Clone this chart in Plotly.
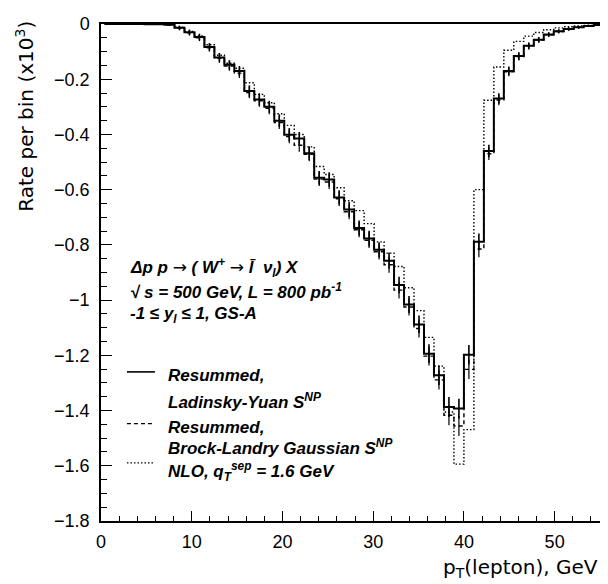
import plotly.graph_objects as go

# ---- data (values in units of 10^3) ----
BIN_LO = [0.4, 1.5, 2.6, 3.7, 4.8, 5.9, 7.0, 8.1, 9.2, 10.3, 11.4, 12.5, 13.6,
          14.7, 15.8, 16.9, 18.0, 19.1, 20.2, 21.3, 22.4, 23.5, 24.6, 25.7,
          26.8, 27.9, 29.0, 30.1, 31.2, 32.3, 33.4, 34.5, 35.6, 36.7, 37.8,
          38.9, 40.0, 41.1, 42.2, 43.3, 44.4, 45.5, 46.6, 47.7, 48.8, 49.9,
          51.0, 52.1, 53.2, 54.3]
BIN_WIDTH = 1.1

RESUM_LY = [0.0, 0.0, 0.0, 0.0, -0.0005, -0.001, -0.003, -0.014, -0.030, -0.047,
            -0.083, -0.121, -0.148, -0.170, -0.243, -0.273, -0.300, -0.350,
            -0.401, -0.415, -0.468, -0.557, -0.563, -0.628, -0.672, -0.739,
            -0.777, -0.818, -0.857, -0.945, -1.016, -1.088, -1.194, -1.272,
            -1.387, -1.393, -1.198, -0.789, -0.460, -0.270, -0.170, -0.116,
            -0.079, -0.057, -0.038, -0.026, -0.018, -0.012, -0.007, -0.004]

RESUM_BL = [0.0, 0.0, 0.0, 0.0, -0.0005, -0.001, -0.003, -0.015, -0.032, -0.050,
            -0.086, -0.124, -0.152, -0.178, -0.248, -0.278, -0.305, -0.357,
            -0.408, -0.439, -0.472, -0.562, -0.572, -0.633, -0.680, -0.745,
            -0.783, -0.825, -0.872, -0.964, -1.025, -1.103, -1.203, -1.289,
            -1.417, -1.456, -1.251, -0.815, -0.470, -0.275, -0.173, -0.118,
            -0.080, -0.058, -0.039, -0.027, -0.018, -0.012, -0.007, -0.004]

NLO = [0.0, 0.0, 0.0, 0.0, 0.0, -0.001, -0.002, -0.012, -0.027, -0.043,
       -0.075, -0.113, -0.142, -0.160, -0.213, -0.255, -0.285, -0.325,
       -0.367, -0.400, -0.445, -0.516, -0.545, -0.593, -0.640, -0.676,
       -0.723, -0.789, -0.830, -0.878, -0.955, -1.038, -1.135, -1.239,
       -1.405, -1.594, -1.469, -0.600, -0.276, -0.156, -0.095, -0.063,
       -0.044, -0.031, -0.021, -0.014, -0.010, -0.007, -0.005, -0.003]

ERR_LY = [0.0, 0.0, 0.0, 0.0, 0.0, 0.0, 0.003, 0.008, 0.010, 0.012,
          0.014, 0.016, 0.017, 0.018, 0.021, 0.022, 0.022, 0.023, 0.024,
          0.024, 0.025, 0.025, 0.026, 0.026, 0.027, 0.027, 0.028, 0.028,
          0.029, 0.030, 0.031, 0.032, 0.034, 0.035, 0.036, 0.036, 0.035,
          0.030, 0.023, 0.019, 0.016, 0.014, 0.012, 0.010, 0.008, 0.007,
          0.006, 0.005, 0.004, 0.003]

ERR_BL = [0.0, 0.0, 0.0, 0.0, 0.0, 0.0, 0.003, 0.008, 0.010, 0.012,
          0.014, 0.016, 0.017, 0.018, 0.021, 0.022, 0.022, 0.023, 0.024,
          0.024, 0.025, 0.025, 0.026, 0.026, 0.027, 0.027, 0.028, 0.028,
          0.029, 0.030, 0.031, 0.032, 0.034, 0.035, 0.036, 0.036, 0.035,
          0.030, 0.023, 0.019, 0.016, 0.014, 0.012, 0.010, 0.008, 0.007,
          0.006, 0.005, 0.004, 0.003]

X_TICKS = [0, 10, 20, 30, 40, 50]

# ---- helpers ----
edges = BIN_LO + [BIN_LO[-1] + BIN_WIDTH]
centers = [b + BIN_WIDTH / 2 for b in BIN_LO]


def step(vals):
    return vals + [vals[-1]]


fig = go.Figure()

fig.add_trace(go.Scatter(x=edges, y=step(NLO), mode="lines", line_shape="hv",
                         line=dict(color="black", width=1.4, dash="1.5px,2px"),
                         showlegend=False))
fig.add_trace(go.Scatter(x=edges, y=step(RESUM_BL), mode="lines", line_shape="hv",
                         line=dict(color="black", width=1.4, dash="4px,3px"),
                         showlegend=False))
fig.add_trace(go.Scatter(x=centers, y=RESUM_BL, mode="markers",
                         marker=dict(size=1, color="rgba(0,0,0,0)"),
                         error_y=dict(type="data", array=ERR_BL, width=0,
                                      thickness=1.2, color="black"),
                         showlegend=False))
fig.add_trace(go.Scatter(x=edges, y=step(RESUM_LY), mode="lines", line_shape="hv",
                         line=dict(color="black", width=2),
                         showlegend=False))
fig.add_trace(go.Scatter(x=centers, y=RESUM_LY, mode="markers",
                         marker=dict(size=1, color="rgba(0,0,0,0)"),
                         error_y=dict(type="data", array=ERR_LY, width=0,
                                      thickness=1.6, color="black"),
                         showlegend=False))

BI = dict(family="Liberation Sans, Arial, sans-serif", size=17, color="black")
TITLE_FONT = dict(family="DejaVu Sans, sans-serif", size=20, color="black")

annotations = []


def txt(x, y, s, font=BI, **kw):
    d = dict(x=x, y=y, xref="paper", yref="paper", text=s, showarrow=False,
             xanchor="left", yanchor="middle", font=font)
    d.update(kw)
    annotations.append(d)


ARROW = '<span style="font-family:DejaVu Sans;font-weight:normal;font-style:normal">→</span>'

# process description
txt(0.054, 0.510, "<b><i>Δp p " + ARROW + " ( W<sup>+</sup> " + ARROW
    + " l\u0304  ν<sub>l</sub>) X</i></b>")
txt(0.054, 0.462, "<b><i>√ s = 500 GeV, L = 800 pb<sup>-1</sup></i></b>")
txt(0.054, 0.415, "<b><i>-1 ≤ y<sub>l</sub> ≤ 1, GS-A</i></b>")

# legend texts
txt(0.131, 0.292, "<b><i>Resummed,</i></b>")
txt(0.131, 0.241, "<b><i>Ladinsky-Yuan S<sup>NP</sup></i></b>")
txt(0.131, 0.188, "<b><i>Resummed,</i></b>")
txt(0.131, 0.148, "<b><i>Brock-Landry Gaussian S<sup>NP</sup></i></b>")
txt(0.131, 0.100, "<b><i>NLO, q<sub>T</sub><sup>sep</sup> = 1.6 GeV</i></b>")

# axis titles
txt(1.0, -0.095, "p<sub>T</sub>(lepton), GeV", font=TITLE_FONT, xanchor="right")
txt(-0.154, 1.01, "Rate per bin (x10<sup>3</sup>)", font=TITLE_FONT,
    xanchor="center", yanchor="top", textangle=-90)

shapes = [
    dict(type="line", xref="paper", yref="paper", x0=0.052, x1=0.108,
         y0=0.300, y1=0.300, line=dict(color="black", width=1.6)),
    dict(type="line", xref="paper", yref="paper", x0=0.052, x1=0.108,
         y0=0.196, y1=0.196, line=dict(color="black", width=1.2, dash="4px,3px")),
    dict(type="line", xref="paper", yref="paper", x0=0.052, x1=0.108,
         y0=0.117, y1=0.117, line=dict(color="black", width=1.2, dash="1.5px,2px")),
]

TICK_FONT = dict(family="Liberation Sans, Arial, sans-serif", size=18, color="black")

# the page body adds an 8px offset, so the figure is sized to fit the window
fig.update_layout(
    width=600, height=576,
    margin=dict(l=93, r=6, t=7, b=63),
    paper_bgcolor="white", plot_bgcolor="white",
    annotations=annotations, shapes=shapes,
    showlegend=False,
)
fig.update_xaxes(range=[0, 55], tickvals=X_TICKS, ticks="inside", ticklen=10,
                 tickwidth=1.2, tickcolor="black", showgrid=False, zeroline=False,
                 showline=True, linecolor="black", linewidth=1.5, mirror=True,
                 tickfont=TICK_FONT, ticklabelstandoff=4, ticklabeloverflow="allow",
                 minor=dict(dtick=2, ticks="inside", ticklen=5, tickwidth=1,
                            tickcolor="black", showgrid=False))
fig.update_yaxes(range=[-1.8, 0], dtick=0.2, tick0=0, ticks="inside", ticklen=11,
                 tickwidth=1.2, tickcolor="black", showgrid=False, zeroline=False,
                 showline=True, linecolor="black", linewidth=1.5, mirror=True,
                 tickfont=TICK_FONT, ticklabelstandoff=6, ticklabeloverflow="allow",
                 minor=dict(dtick=0.05, ticks="inside", ticklen=6, tickwidth=1,
                            tickcolor="black", showgrid=False))

fig.write_html("out.html")
